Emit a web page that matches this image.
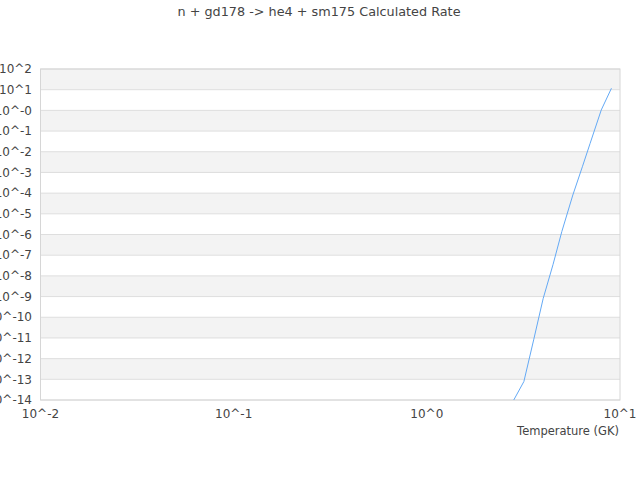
<!DOCTYPE html>
<html>
<head>
<meta charset="utf-8">
<script src="https://cdn.jsdelivr.net/npm/d3@7"></script>
<style>
  body { margin: 0; background: #fff; }
  svg text { font-family: "DejaVu Sans", sans-serif; fill: #444; }
</style>
</head>
<body>
<div id="chart"></div>
<script>
// Datos
const temperaturas = [2.5, 3.18, 3.58, 4.0, 4.5, 5.0, 5.7, 6.4, 7.0, 8.0, 9.03]
const tasas = [1.3e-15, 7.8e-14, 8.7e-12, 7.9e-10, 3.5e-8, 1.4e-6, 8.1e-5, 2.0e-3, 2.5e-2, 1.05, 11.7]
const ticksX = [1e-2, 1e-1, 1e0, 1e1]
const etiquetasX = ["10^-2", "10^-1", "10^0", "10^1"]
const exponentesY = d3.range(2, -15, -1)
const etiquetasY = exponentesY.map((e) => (e === 0 ? "10^-0" : "10^" + e))

const ancho = 640
const alto = 480
const margen = { top: 69, right: 20, bottom: 80, left: 40.5 }

const svg = d3
  .select("#chart")
  .append("svg")
  .attr("width", ancho)
  .attr("height", alto)

const x = d3
  .scaleLog()
  .domain([1e-2, 1e1])
  .range([margen.left, ancho - margen.right])

const y = d3
  .scaleLog()
  .domain([1e-14, 1e2])
  .range([alto - margen.bottom, margen.top])

// Bandas alternadas
const bandas = exponentesY.slice(0, -1).map((e, i) => ({ e, i }))
svg
  .append("g")
  .selectAll("rect")
  .data(bandas)
  .join("rect")
  .attr("x", margen.left)
  .attr("width", x.range()[1] - margen.left)
  .attr("y", (d) => y(Math.pow(10, d.e)))
  .attr("height", (d) => y(Math.pow(10, d.e - 1)) - y(Math.pow(10, d.e)))
  .attr("fill", (d) => (d.i % 2 === 0 ? "#f3f3f3" : "#ffffff"))

// Lineas de grilla
svg
  .append("g")
  .selectAll("line")
  .data(exponentesY)
  .join("line")
  .attr("x1", margen.left)
  .attr("x2", x.range()[1])
  .attr("y1", (d) => y(Math.pow(10, d)))
  .attr("y2", (d) => y(Math.pow(10, d)))
  .attr("stroke", "#dedede")

// Borde
svg
  .append("rect")
  .attr("x", margen.left)
  .attr("y", margen.top)
  .attr("width", x.range()[1] - margen.left)
  .attr("height", y.range()[0] - margen.top)
  .attr("fill", "none")
  .attr("stroke", "#d6d6d6")

// Etiquetas eje Y
svg
  .append("g")
  .selectAll("text")
  .data(exponentesY)
  .join("text")
  .attr("x", 32)
  .attr("y", (d) => y(Math.pow(10, d)))
  .attr("dy", "0.35em")
  .attr("text-anchor", "end")
  .attr("font-size", 12)
  .text((d, i) => etiquetasY[i])

// Etiquetas eje X
svg
  .append("g")
  .selectAll("text")
  .data(ticksX)
  .join("text")
  .attr("x", (d) => x(d))
  .attr("y", 414)
  .attr("dy", "0.35em")
  .attr("text-anchor", "middle")
  .attr("font-size", 12)
  .text((d, i) => etiquetasX[i])

svg
  .append("text")
  .attr("x", 619)
  .attr("y", 431)
  .attr("dy", "0.35em")
  .attr("text-anchor", "end")
  .attr("font-size", 11.5)
  .text("Temperature (GK)")

svg
  .append("text")
  .attr("x", 319)
  .attr("y", 12)
  .attr("dy", "0.35em")
  .attr("text-anchor", "middle")
  .attr("font-size", 12.8)
  .text("n + gd178 -> he4 + sm175 Calculated Rate")

// Curva
svg
  .append("clipPath")
  .attr("id", "recorte")
  .append("rect")
  .attr("x", margen.left)
  .attr("y", margen.top)
  .attr("width", x.range()[1] - margen.left)
  .attr("height", y.range()[0] - margen.top)

const linea = d3
  .line()
  .x((d, i) => x(d))
  .y((d, i) => y(tasas[i]))

svg
  .append("path")
  .datum(temperaturas)
  .attr("clip-path", "url(#recorte)")
  .attr("d", linea)
  .attr("fill", "none")
  .attr("stroke", "#63a9f5")
  .attr("stroke-width", 1)
</script>
</body>
</html>
